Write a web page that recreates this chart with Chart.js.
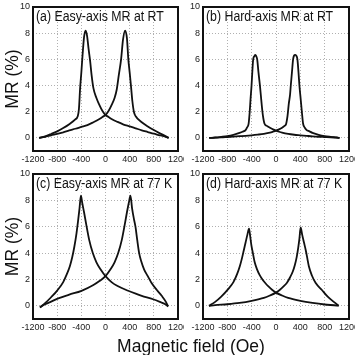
<!DOCTYPE html>
<html>
<head>
<meta charset="utf-8">
<script src="https://cdn.jsdelivr.net/npm/chart.js@4.4.1/dist/chart.umd.min.js"></script>
<style>
html, body { margin: 0; padding: 0; background: #fff; overflow: hidden; }
#wrap { position: relative; width: 355px; height: 355px; }
#wrap canvas { position: absolute; }
#xtitle { position: absolute; left: 91px; width: 200px; top: 337px; text-align: center;
  font: 17.5px Arial, 'Liberation Sans', sans-serif; line-height: 18px; color: #111; white-space: nowrap; }
</style>
</head>
<body>
<div id="wrap">
  <canvas id="cA" width="184" height="165" style="left:0px;top:0px"></canvas>
  <canvas id="cB" width="171" height="165" style="left:184px;top:0px"></canvas>
  <canvas id="cC" width="184" height="172" style="left:0px;top:165px"></canvas>
  <canvas id="cD" width="171" height="172" style="left:184px;top:165px"></canvas>
  <div id="xtitle">Magnetic field (Oe)</div>
</div>
<script>
// axis ticks
const xTicks = [-1200, -800, -400, 0, 400, 800, 1200];
const yTicks = [0, 2, 4, 6, 8, 10];
const panelTitles = ['(a) Easy-axis MR at RT', '(b) Hard-axis MR at RT',
                     '(c) Easy-axis MR at 77 K', '(d) Hard-axis MR at 77 K'];

// (a) easy axis, RT : field (Oe) and MR (%) for both sweep directions
const hA_dn = [-1100,-1000,-900,-800,-700,-600,-500,-460,-440,-420,-400,-380,-355,-330,-305,-280,-255,-230,-200,-150,-100,-50,0,50,100,200,300,400,500,600,700,800,900,1000,1045];
const mrA_dn = [0,0.12,0.3,0.5,0.75,1.05,1.42,1.65,2.2,3.8,5.0,6.3,7.7,8.2,7.8,6.8,5.9,4.8,3.8,3.05,2.5,2.05,1.75,1.6,1.45,1.22,1.02,0.88,0.73,0.58,0.45,0.32,0.2,0.07,0];
const hA_up = [-1100,-1000,-900,-800,-700,-600,-500,-400,-300,-200,-100,-50,0,50,100,150,186,220,258,290,325,355,378,400,423,445,470,500,600,700,800,900,1000,1045];
const mrA_up = [0,0.08,0.2,0.3,0.43,0.57,0.7,0.84,0.98,1.2,1.45,1.6,1.75,2.05,2.5,3.05,3.7,4.8,6.0,7.5,8.2,7.6,6.0,5.0,3.9,2.8,2.0,1.65,1.2,0.88,0.6,0.35,0.12,0];

// (b) hard axis, RT
const hB_dn = [-1100,-1000,-900,-800,-700,-600,-550,-500,-475,-450,-432,-418,-402,-390,-375,-355,-340,-325,-309,-288,-264,-248,-232,-215,-190,-150,-100,-50,0,50,100,200,300,400,500,600,700,800,900,1000,1045];
const mrB_dn = [0,0.03,0.08,0.14,0.24,0.38,0.47,0.6,0.8,1.1,2.0,3.0,4.0,5.0,6.0,6.25,6.35,6.25,6.0,5.0,4.0,3.2,2.4,1.7,1.1,0.92,0.78,0.65,0.55,0.47,0.4,0.3,0.24,0.2,0.16,0.12,0.09,0.07,0.05,0.02,0];
const hB_up = [-1100,-1000,-900,-800,-700,-600,-500,-400,-300,-200,-100,-50,0,50,100,140,165,190,210,231,243,262,281,298,314,330,352,370,385,405,425,445,470,500,550,600,700,800,900,1000,1045];
const mrB_up = [0,0.02,0.04,0.07,0.1,0.13,0.16,0.2,0.25,0.31,0.4,0.47,0.55,0.65,0.78,0.92,1.05,1.7,2.6,3.3,4.0,5.0,6.0,6.3,6.35,6.3,6.0,5.0,4.0,3.0,2.0,1.1,0.8,0.62,0.5,0.38,0.24,0.14,0.08,0.03,0];

// (c) easy axis, 77 K
const hC_dn = [-1085,-1000,-900,-800,-700,-640,-590,-550,-515,-480,-455,-430,-407,-385,-355,-320,-270,-210,-150,-80,0,100,200,375,500,600,788,900,1000,1036];
const mrC_dn = [-0.12,0.2,0.65,1.15,1.8,2.4,3.0,3.7,4.5,5.5,6.4,7.4,8.35,7.8,7.1,6.2,5.0,4.0,3.3,2.75,2.25,1.8,1.5,1.14,0.92,0.76,0.5,0.3,0.1,-0.05];
const hC_up = [-1085,-1000,-900,-793,-600,-397,-200,-100,0,80,150,210,270,320,355,385,413,440,470,496,525,557,590,640,700,760,850,930,1000,1036];
const mrC_up = [-0.12,0.12,0.32,0.55,0.85,1.14,1.58,1.88,2.25,2.75,3.3,4.0,5.0,6.2,7.1,7.8,8.35,7.4,6.6,6.0,5.0,4.0,3.4,2.75,2.25,1.75,1.2,0.76,0.3,-0.05];

// (d) hard axis, 77 K
const hD_dn = [-1102,-1000,-900,-790,-700,-640,-595,-560,-530,-500,-470,-443,-425,-405,-380,-350,-310,-270,-237,-180,-120,-60,0,100,200,400,600,800,1000,1030];
const mrD_dn = [0,0.3,0.7,1.25,1.8,2.4,3.0,3.6,4.2,4.8,5.4,5.85,5.3,4.6,4.0,3.3,2.75,2.35,2.1,1.75,1.45,1.2,1.0,0.78,0.6,0.38,0.22,0.1,0.02,0];
const hD_up = [-1102,-1000,-800,-600,-400,-200,-100,0,60,120,180,230,276,310,340,365,385,405,430,460,490,515,540,590,650,755,850,950,1030];
const mrD_up = [0,0.05,0.12,0.22,0.38,0.6,0.78,1.0,1.2,1.45,1.75,2.15,2.6,3.1,3.7,4.4,5.1,5.95,5.4,4.8,4.2,3.6,3.0,2.3,1.75,1.2,0.7,0.3,0];

const FONT = "Arial, 'Liberation Sans', sans-serif";
const tickFont = {family: "'Liberation Sans Narrow', 'Arial Narrow', Arial, sans-serif", size: 9};

// frame + panel caption drawn inside the plot area
const framePlugin = {
	id: 'frame',
	afterDraw(chart, args, opts) {
		const a = chart.chartArea, ctx = chart.ctx;
		ctx.save();
		ctx.strokeStyle = '#111';
		ctx.lineWidth = 2;
		ctx.strokeRect(a.left, a.top, a.right - a.left, a.bottom - a.top);
		ctx.fillStyle = '#111';
		ctx.font = '14px ' + FONT;
		ctx.textBaseline = 'middle';
		ctx.translate(a.left + 3, a.top + 10.5);
		ctx.scale(0.88, 1);
		ctx.fillText(opts.text, 0, 0);
		ctx.restore();
	}
};

function pts(xs, ys) {
	return xs.map((x, i) => ({x: x, y: ys[i]}));
}

function makePanel(id, title, hDn, mrDn, hUp, mrUp, yTitle, yWidth, xHeight, padTop) {
	const line = d => ({data: d, borderColor: '#111', borderWidth: 1.8, pointRadius: 0,
		fill: false, cubicInterpolationMode: 'monotone'});
	new Chart(document.getElementById(id), {
		type: 'line',
		data: {datasets: [line(pts(hDn, mrDn)), line(pts(hUp, mrUp))]},
		options: {
			responsive: false,
			animation: false,
			devicePixelRatio: 1,
			layout: {padding: {top: padTop, right: 6, left: 0, bottom: 0}},
			plugins: {legend: {display: false}, tooltip: {enabled: false}, frame: {text: title}},
			scales: {
				x: {
					type: 'linear', min: -1200, max: 1200,
					afterBuildTicks: s => { s.ticks = xTicks.map(v => ({value: v})); },
					afterFit: s => { s.height = xHeight; s.paddingLeft = 0; s.paddingRight = 0; },
					grid: {color: '#b0b0b0', lineWidth: 1, drawTicks: false},
					border: {display: false, dash: [1, 2]},
					ticks: {autoSkip: false, maxRotation: 0, minRotation: 0, padding: 3,
						color: '#222', font: tickFont, callback: v => String(v)}
				},
				y: {
					min: -1, max: 10,
					afterBuildTicks: s => { s.ticks = yTicks.map(v => ({value: v})); },
					afterFit: s => { s.width = yWidth; s.paddingTop = 0; s.paddingBottom = 0; },
					grid: {color: '#b0b0b0', lineWidth: 1, drawTicks: false},
					border: {display: false, dash: [1, 2]},
					ticks: {padding: 3, color: '#222', font: tickFont, callback: v => String(v)},
					title: {display: yTitle, text: 'MR (%)', color: '#111',
						font: {family: FONT, size: 17.5}, padding: {top: 3, bottom: 0}}
				}
			}
		},
		plugins: [framePlugin]
	});
}

makePanel('cA', panelTitles[0], hA_dn, mrA_dn, hA_up, mrA_up, true, 33, 14, 7);
makePanel('cB', panelTitles[1], hB_dn, mrB_dn, hB_up, mrB_up, false, 19, 14, 7);
makePanel('cC', panelTitles[2], hC_dn, mrC_dn, hC_up, mrC_up, true, 33, 18, 9);
makePanel('cD', panelTitles[3], hD_dn, mrD_dn, hD_up, mrD_up, false, 19, 18, 9);
</script>
</body>
</html>
